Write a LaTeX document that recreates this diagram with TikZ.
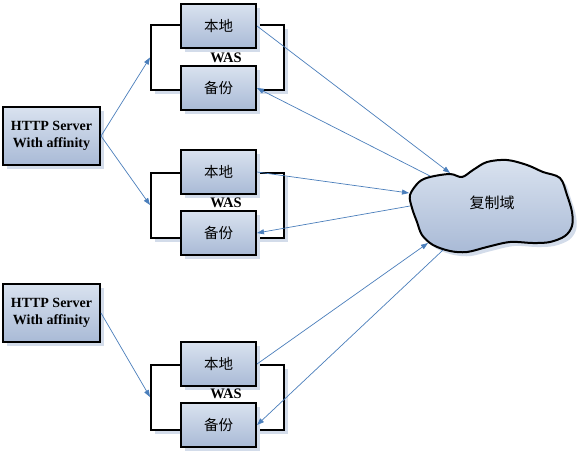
\documentclass[tikz,border=0pt]{standalone}
\usepackage{fontspec}
\setmainfont{Liberation Serif}
\newfontfamily\cjk{Noto Sans CJK SC}
\usetikzlibrary{shadows,arrows.meta}
\definecolor{lineblue}{HTML}{4A7EBB}
\definecolor{boxtop}{HTML}{D9E2EF}
\definecolor{boxbot}{HTML}{A9BAD6}
\definecolor{shadowc}{HTML}{D3DCEA}
\begin{document}
\begin{tikzpicture}[x=1pt,y=-1pt,
  shadowed/.style={drop shadow={shadow xshift=4pt,shadow yshift=-4pt,fill=shadowc,opacity=1}},
  box/.style={draw=black,line width=2pt,top color=boxtop,bottom color=boxbot,
    minimum width=75pt,minimum height=44pt,inner sep=0pt,shadowed,
    font=\cjk\fontsize{14.5}{16}\selectfont},
  httpbox/.style={draw=black,line width=2pt,top color=boxtop,bottom color=boxbot,
    minimum width=97pt,minimum height=58pt,inner sep=0pt,shadowed,align=center,
    font=\bfseries\fontsize{14}{17.5}\selectfont},
  frame/.style={draw=black,line width=2pt,fill=white,minimum width=133pt,
    minimum height=65pt,inner sep=0pt,shadowed},
  waslabel/.style={font=\bfseries\fontsize{14.5}{16}\selectfont,inner sep=0pt},
  conn/.style={draw=lineblue,line width=0.7pt,-{Triangle[length=7pt,width=5pt]}}
]
\useasboundingbox (0,0) rectangle (580,456);
\fill[white] (0,0) rectangle (580,456);

% HTTP servers
\node[httpbox] (h1) at (51.5,136) {HTTP Server\\With affinity};
\node[httpbox] (h2) at (51.5,313) {HTTP Server\\With affinity};

% WAS groups
\node[frame] (f1) at (217.5,57.5) {};
\node[box] (l1) at (218.5,26) {本地};
\node[box] (b1) at (218.5,88) {备份};
\node[waslabel] (w1) at (226,58) {WAS};

\node[frame] (f2) at (217.5,205) {};
\node[box] (l2) at (218.5,172) {本地};
\node[box] (b2) at (218.5,233) {备份};
\node[waslabel] (w2) at (226,203) {WAS};

\node[frame] (f3) at (217.5,397) {};
\node[box] (l3) at (218.5,364) {本地};
\node[box] (b3) at (218.5,425) {备份};
\node[waslabel] (w3) at (226,394) {WAS};

% cloud
\def\cloudpath{plot[smooth cycle,tension=0.55] coordinates {
 (410,195) (419,182) (430,177) (450,174) (462,177) (473,170) (487,162)
 (507,160) (527,165) (543,172) (560,178) (567,195) (572,212) (572,226)
 (565,236) (550,242) (533,243) (510,242) (487,247) (467,252) (450,251)
 (433,245) (422,235) (417,222) (412,208)}}
\fill[shadowc,xshift=4pt,yshift=-4pt] \cloudpath;
\draw[black,line width=2pt,top color=boxtop,bottom color=boxbot] \cloudpath;
\node[font=\cjk\fontsize{15}{17}\selectfont] (cloud) at (492,203) {复制域};
\coordinate (c1) at (450,173);
\coordinate (c2) at (430,176);
\coordinate (c3) at (409,193);
\coordinate (c4) at (410,206);
\coordinate (c5) at (428,243);
\coordinate (c6) at (443,250);

% connectors
\draw[conn] (h1.east) -- (f1.west);
\draw[conn] (h1.east) -- (f2.west);
\draw[conn] (h2.east) -- (f3.west);
\draw[conn] (l1.east) -- (c1);
\draw[conn] (c2) -- (b1.east);
\draw[conn] (l2.east) -- (c3);
\draw[conn] (c4) -- (b2.east);
\draw[conn] (l3.east) -- (c5);
\draw[conn] (c6) -- (b3.east);
\end{tikzpicture}
\end{document}
